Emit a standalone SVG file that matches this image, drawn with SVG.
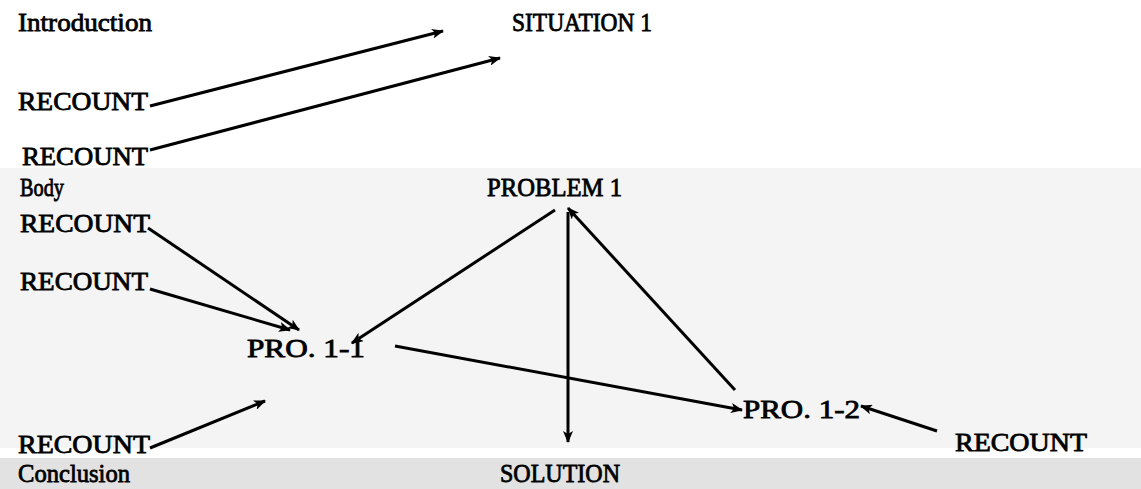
<svg xmlns="http://www.w3.org/2000/svg" width="1141" height="489" viewBox="0 0 1141 489">
<style>
.t{font-family:"Liberation Serif","Times New Roman",serif;font-size:26px;fill:#000;stroke:#000;stroke-width:0.8}
.c{stroke:#000;stroke-width:3;fill:none;marker-end:url(#ah)}
</style>
<defs>
<marker id="ah" viewBox="0 0 12 10" refX="11" refY="5" markerWidth="12" markerHeight="10" markerUnits="userSpaceOnUse" orient="auto">
<path d="M0,0 L12,5 L0,10 L3,5 Z" fill="#000"/>
</marker>
</defs>
<rect x="0" y="0" width="1141" height="489" fill="#fff"/>
<rect x="0" y="168" width="1141" height="280" fill="#f4f4f4"/>
<rect x="0" y="458" width="1141" height="31" fill="#e2e2e2"/>
<g id="connectors">
<path class="c" d="M150,106 L443,31"/>
<path class="c" d="M150,150 L500,58"/>
<path class="c" d="M148,228 L299,330"/>
<path class="c" d="M150,289 L290,330"/>
<path class="c" d="M555,210 L352,343"/>
<path class="c" d="M735,390 L568,208"/>
<path class="c" d="M568,212 L568,442"/>
<path class="c" d="M395,346 L742,410"/>
<path class="c" d="M150,448 L265,401"/>
<path class="c" d="M937,431 L861,406"/>
</g>
<g id="introduction"><text class="t" x="18" y="31" textLength="134" lengthAdjust="spacingAndGlyphs">Introduction</text></g>
<g id="situation1"><text class="t" x="512" y="31" textLength="140" lengthAdjust="spacingAndGlyphs">SITUATION 1</text></g>
<g id="recount1"><text class="t" x="18" y="110" textLength="130" lengthAdjust="spacingAndGlyphs">RECOUNT</text></g>
<g id="recount2"><text class="t" x="22" y="165" textLength="126" lengthAdjust="spacingAndGlyphs">RECOUNT</text></g>
<g id="body"><text class="t" x="20" y="196" textLength="44" lengthAdjust="spacingAndGlyphs">Body</text></g>
<g id="problem1"><text class="t" x="487" y="196" textLength="135" lengthAdjust="spacingAndGlyphs">PROBLEM 1</text></g>
<g id="recount3"><text class="t" x="20" y="232" textLength="130" lengthAdjust="spacingAndGlyphs">RECOUNT</text></g>
<g id="recount4"><text class="t" x="20" y="290" textLength="128" lengthAdjust="spacingAndGlyphs">RECOUNT</text></g>
<g id="pro11"><text class="t" x="247" y="357" textLength="118" lengthAdjust="spacingAndGlyphs">PRO. 1-1</text></g>
<g id="pro12"><text class="t" x="743" y="418" textLength="117" lengthAdjust="spacingAndGlyphs">PRO. 1-2</text></g>
<g id="recount5"><text class="t" x="18" y="453" textLength="132" lengthAdjust="spacingAndGlyphs">RECOUNT</text></g>
<g id="recount6"><text class="t" x="955" y="451" textLength="132" lengthAdjust="spacingAndGlyphs">RECOUNT</text></g>
<g id="conclusion"><text class="t" x="18" y="482" textLength="112" lengthAdjust="spacingAndGlyphs">Conclusion</text></g>
<g id="solution"><text class="t" x="500" y="482" textLength="120" lengthAdjust="spacingAndGlyphs">SOLUTION</text></g>
</svg>
